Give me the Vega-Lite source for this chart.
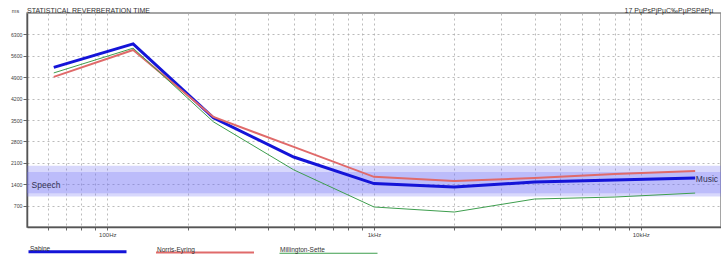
{
  "$schema": "https://vega.github.io/schema/vega-lite/v6.json",
  "width": 694,
  "height": 214,
  "autosize": {"type": "none"},
  "padding": {"left": 27, "top": 13, "right": 0, "bottom": 29},
  "background": "white",
  "config": {
    "font": "Liberation Sans",
    "view": {"stroke": "#888888", "strokeWidth": 1.5},
    "axis": {"labelColor": "#444444", "labelFont": "Liberation Sans", "labelOverlap": false}
  },
  "datasets": {
    "bands": [
      {"band": "Music", "lo": 1000, "hi": 2000},
      {"band": "Speech", "lo": 1100, "hi": 1800}
    ],
    "rt": [
      {"method": "Sabine", "f": 63, "t": 5220},
      {"method": "Sabine", "f": 125, "t": 5990},
      {"method": "Sabine", "f": 250, "t": 3570},
      {"method": "Sabine", "f": 500, "t": 2290},
      {"method": "Sabine", "f": 1000, "t": 1420},
      {"method": "Sabine", "f": 2000, "t": 1310},
      {"method": "Sabine", "f": 4000, "t": 1470},
      {"method": "Sabine", "f": 8000, "t": 1540},
      {"method": "Sabine", "f": 16000, "t": 1600},
      {"method": "Norris-Eyring", "f": 63, "t": 4910},
      {"method": "Norris-Eyring", "f": 125, "t": 5790},
      {"method": "Norris-Eyring", "f": 250, "t": 3600},
      {"method": "Norris-Eyring", "f": 500, "t": 2620},
      {"method": "Norris-Eyring", "f": 1000, "t": 1640},
      {"method": "Norris-Eyring", "f": 2000, "t": 1505},
      {"method": "Norris-Eyring", "f": 4000, "t": 1600},
      {"method": "Norris-Eyring", "f": 8000, "t": 1730},
      {"method": "Norris-Eyring", "f": 16000, "t": 1830},
      {"method": "Millington-Sette", "f": 63, "t": 5040},
      {"method": "Millington-Sette", "f": 125, "t": 5850},
      {"method": "Millington-Sette", "f": 250, "t": 3440},
      {"method": "Millington-Sette", "f": 500, "t": 1870},
      {"method": "Millington-Sette", "f": 1000, "t": 655},
      {"method": "Millington-Sette", "f": 2000, "t": 490},
      {"method": "Millington-Sette", "f": 4000, "t": 915},
      {"method": "Millington-Sette", "f": 8000, "t": 980},
      {"method": "Millington-Sette", "f": 16000, "t": 1110}
    ],
    "notes": [
      {"label": "Speech", "f": 52, "t": 1380},
      {"label": "Music", "f": 16100, "t": 1560}
    ],
    "header": [
      {"label": "STATISTICAL REVERBERATION TIME", "f": 50, "t": 7000, "side": "left"},
      {"label": "17 РџРѕРјРµС‰РµРЅРёРµ", "f": 8700, "t": 7000, "side": "right"}
    ]
  },
  "layer": [
    {
      "data": {"name": "bands"},
      "mark": {"type": "rect", "fill": "#7474f4", "opacity": 0.28},
      "encoding": {
        "x": {"value": 0},
        "x2": {"value": "width"},
        "y": {
          "field": "hi", "type": "quantitative",
          "scale": {"domain": [0, 7000], "nice": false},
          "axis": {
            "title": "ms",
            "titleAngle": 0,
            "titleX": -12,
            "titleY": 0,
            "titleAlign": "center",
            "titleBaseline": "bottom",
            "titleFontSize": 5.5,
            "titleFontWeight": "normal",
            "titleColor": "#444444",
            "values": [700, 1400, 2100, 2800, 3500, 4200, 4900, 5600, 6300],
            "tickCount": 100,
            "format": "d",
            "labelOverlap": false,
            "labelFontSize": 5.2,
            "labelPadding": 1,
            "tickSize": 4,
            "tickColor": "#666666",
            "domainColor": "#555555",
            "domainWidth": 1.5,
            "grid": true,
            "gridColor": "#aaaaaa",
            "gridDash": [2, 3],
            "gridWidth": 0.8
          }
        },
        "y2": {"field": "lo"}
      }
    },
    {
      "data": {"name": "rt"},
      "mark": {"type": "line", "clip": true},
      "encoding": {
        "x": {
          "field": "f", "type": "quantitative",
          "scale": {"type": "log", "domain": [50, 20000], "nice": false},
          "axis": {
            "title": null,
            "values": [60, 70, 80, 90, 100, 200, 300, 400, 500, 600, 700, 800, 900, 1000, 2000, 3000, 4000, 5000, 6000, 7000, 8000, 9000, 10000, 20000],
            "tickCount": 100,
            "labelExpr": "datum.value == 100 ? '100Hz' : datum.value == 1000 ? '1kHz' : datum.value == 10000 ? '10kHz' : ''",
            "labelOverlap": false,
            "labelFlush": false,
            "labelFontSize": 6,
            "labelPadding": 1,
            "tickSize": 3,
            "tickColor": "#666666",
            "domainColor": "#555555",
            "domainWidth": 1.5,
            "grid": true,
            "gridColor": "#aaaaaa",
            "gridDash": [2, 3],
            "gridWidth": 0.8
          }
        },
        "y": {
          "field": "t", "type": "quantitative",
          "scale": {"domain": [0, 7000], "nice": false},
          "axis": {
            "title": "ms",
            "titleAngle": 0,
            "titleX": -12,
            "titleY": 0,
            "titleAlign": "center",
            "titleBaseline": "bottom",
            "titleFontSize": 5.5,
            "titleFontWeight": "normal",
            "titleColor": "#444444",
            "values": [700, 1400, 2100, 2800, 3500, 4200, 4900, 5600, 6300],
            "tickCount": 100,
            "format": "d",
            "labelOverlap": false,
            "labelFontSize": 5.2,
            "labelPadding": 1,
            "tickSize": 4,
            "tickColor": "#666666",
            "domainColor": "#555555",
            "domainWidth": 1.5,
            "grid": true,
            "gridColor": "#aaaaaa",
            "gridDash": [2, 3],
            "gridWidth": 0.8
          }
        },
        "color": {
          "field": "method", "type": "nominal",
          "scale": {"domain": ["Sabine", "Norris-Eyring", "Millington-Sette"], "range": ["#1414d8", "#e06a6a", "#3e9e4e"]},
          "legend": {
            "title": null,
            "orient": "none",
            "direction": "horizontal",
            "legendX": 0,
            "legendY": 188,
            "padding": 0,
            "symbolType": "stroke",
            "symbolSize": 9604,
            "labelOffset": -98,
            "labelBaseline": "bottom",
            "labelFontSize": 6.5,
            "labelColor": "#333333",
            "columnPadding": 19
          }
        },
        "strokeWidth": {
          "field": "method", "type": "nominal",
          "scale": {"domain": ["Sabine", "Norris-Eyring", "Millington-Sette"], "range": [3, 1, 1]},
          "legend": null
        }
      }
    },
    {
      "data": {"name": "notes"},
      "mark": {"type": "text", "align": "left", "baseline": "middle", "fontSize": 8.5, "color": "#333355"},
      "encoding": {
        "x": {"field": "f", "type": "quantitative"},
        "y": {"field": "t", "type": "quantitative"},
        "text": {"field": "label"}
      }
    },
    {
      "data": {"name": "header"},
      "mark": {"type": "text", "align": "left", "baseline": "alphabetic", "fontSize": 7, "color": "#333333"},
      "encoding": {
        "x": {"field": "f", "type": "quantitative"},
        "y": {"field": "t", "type": "quantitative"},
        "dy": {"condition": {"test": "datum.side === 'left'", "value": -1.5}, "value": -3},
        "text": {"field": "label"}
      }
    }
  ]
}
